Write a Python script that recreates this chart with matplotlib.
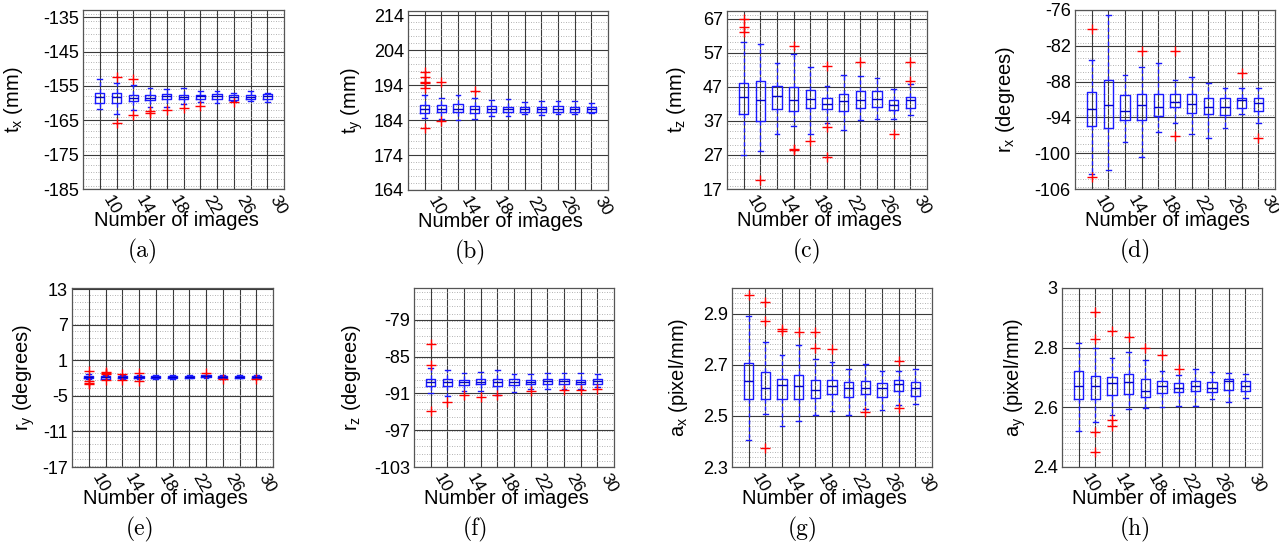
import matplotlib
matplotlib.use('Agg')
import numpy as np
import matplotlib.pyplot as plt
import matplotlib.transforms as mtransforms
from matplotlib.ticker import MultipleLocator, FixedLocator, FormatStrFormatter

plt.rcParams['font.family'] = ['Liberation Sans', 'DejaVu Sans']
plt.rcParams['axes.unicode_minus'] = False

n_images = [10, 12, 14, 16, 18, 20, 22, 24, 26, 28, 30]
tick_labels = ['10', '', '14', '', '18', '', '22', '', '26', '', '30']

# (a) t_x
tx_hi = [-153.0, -154.1, -154.8, -155.7, -156.0, -155.7, -156.5, -156.4, -157.0, -156.5, -157.0]
tx_q3 = [-157.2, -157.2, -157.7, -157.5, -157.3, -157.5, -157.5, -157.4, -157.5, -157.6, -157.4]
tx_med = [-158.2, -158.2, -158.4, -158.4, -158.0, -158.2, -158.0, -158.0, -158.2, -158.2, -158.0]
tx_q1 = [-159.9, -160.1, -159.3, -159.1, -158.9, -158.9, -158.8, -158.9, -159.0, -158.8, -158.8]
tx_lo = [-161.6, -163.2, -162.1, -161.1, -161.1, -160.3, -159.6, -160.1, -159.3, -159.3, -159.6]
tx_out = [[], [-152.5, -165.7], [-153.1, -163.5], [-162.3, -162.8], [-162.1], [-161.3],
          [-160.9], [], [-159.6], [], []]

# (b) t_y
ty_hi = [191.2, 190.4, 191.2, 190.2, 189.7, 190.0, 189.2, 189.5, 189.5, 189.5, 189.0]
ty_q3 = [188.3, 188.2, 188.5, 188.0, 188.0, 187.8, 187.8, 187.8, 187.9, 187.6, 187.8]
ty_med = [187.1, 187.3, 187.3, 187.1, 187.3, 187.1, 187.1, 187.3, 187.1, 187.1, 187.1]
ty_q1 = [186.1, 186.4, 186.3, 186.1, 186.4, 186.4, 186.4, 186.4, 186.3, 186.3, 186.3]
ty_lo = [184.7, 184.2, 184.0, 184.2, 185.2, 185.2, 185.6, 185.4, 185.6, 185.8, 185.9]
ty_out = [[197.7, 196.4, 194.8, 194.6, 193.1, 181.8], [195.0, 183.7], [], [192.2],
          [], [], [], [], [], [], []]

# (c) t_z
tz_hi = [60.1, 59.4, 54.0, 56.5, 52.8, 47.1, 50.3, 50.1, 49.6, 46.4, 47.9]
tz_q3 = [48.2, 48.7, 47.2, 46.9, 46.1, 43.7, 45.0, 45.7, 45.7, 43.2, 44.0]
tz_med = [44.0, 43.0, 44.3, 43.0, 43.3, 41.8, 42.7, 43.2, 43.4, 41.7, 43.2]
tz_q1 = [39.1, 36.9, 40.5, 40.0, 40.7, 40.5, 40.0, 40.8, 41.0, 40.3, 40.8]
tz_lo = [27.1, 28.0, 33.2, 35.6, 33.0, 36.3, 34.4, 37.3, 37.6, 37.4, 38.6]
tz_out = [[67.0, 64.4, 62.9], [19.6], [], [59.0, 28.6, 28.3], [31.2], [53.0, 35.3, 26.3],
          [], [54.3], [], [33.2], [54.1, 48.6]]

# (d) r_x
rx_hi = [-84.4, -76.9, -86.9, -85.5, -84.8, -87.8, -87.3, -88.3, -89.0, -89.1, -89.1]
rx_q3 = [-89.8, -87.8, -90.3, -90.1, -90.1, -90.0, -90.1, -90.8, -90.8, -90.8, -90.7]
rx_med = [-92.6, -92.0, -92.9, -92.0, -92.3, -91.5, -91.7, -92.2, -92.3, -91.1, -91.6]
rx_q1 = [-95.4, -95.7, -94.4, -94.4, -93.7, -92.3, -93.3, -93.5, -93.6, -92.5, -93.0]
rx_lo = [-103.5, -102.8, -98.1, -100.6, -96.5, -95.0, -96.8, -97.4, -95.8, -93.5, -95.0]
rx_out = [[-79.2, -104.0], [], [], [-82.8], [], [-82.9, -97.1], [], [], [], [-86.6], [-97.5]]

# (e) r_y
ry_hi = [-1.36, -1.47, -1.47, -1.42, -1.53, -1.53, -1.47, -1.42, -1.53, -1.47, -1.53]
ry_q3 = [-1.64, -1.64, -1.64, -1.58, -1.64, -1.64, -1.58, -1.53, -1.64, -1.58, -1.64]
ry_med = [-1.81, -1.87, -1.81, -1.81, -1.81, -1.87, -1.75, -1.70, -1.81, -1.75, -1.81]
ry_q1 = [-1.98, -2.09, -1.98, -1.98, -1.98, -2.03, -1.92, -1.87, -2.03, -1.92, -1.98]
ry_lo = [-2.20, -2.20, -2.15, -2.20, -2.09, -2.15, -2.03, -1.98, -2.09, -2.03, -2.03]
ry_out = [[-0.8, -2.48, -2.8, -2.93], [-0.95, -1.08, -1.36, -2.31], [-1.25, -2.31],
          [-1.19, -2.48], [], [], [], [-1.2], [-2.2], [], [-2.2]]

# (f) r_z
rz_hi = [-86.9, -87.1, -87.6, -87.5, -87.1, -87.8, -87.8, -87.6, -87.7, -87.6, -87.9]
rz_q3 = [-88.6, -88.6, -88.8, -88.7, -88.7, -88.7, -88.8, -88.6, -88.6, -88.8, -88.6]
rz_med = [-89.1, -89.1, -89.1, -89.1, -89.2, -89.2, -89.2, -88.9, -88.9, -89.1, -88.9]
rz_q1 = [-89.8, -89.8, -89.7, -89.5, -89.8, -89.7, -89.5, -89.4, -89.4, -89.5, -89.4]
rz_lo = [-90.9, -91.4, -90.6, -90.6, -91.2, -90.8, -90.3, -90.2, -90.2, -90.2, -89.9]
rz_out = [[-83.0, -86.3, -93.8], [-92.4], [-91.3], [-91.5], [-91.3], [], [-90.6], [],
          [-90.5], [-90.5], [-90.2]]

# (g) a_x
scx_hi = [2.892, 2.790, 2.737, 2.777, 2.721, 2.711, 2.684, 2.704, 2.677, 2.675, 2.684]
scx_q3 = [2.708, 2.671, 2.644, 2.660, 2.640, 2.640, 2.631, 2.638, 2.628, 2.642, 2.631]
scx_med = [2.635, 2.609, 2.622, 2.618, 2.602, 2.618, 2.607, 2.609, 2.607, 2.625, 2.607]
scx_q1 = [2.565, 2.565, 2.565, 2.565, 2.568, 2.587, 2.575, 2.587, 2.575, 2.598, 2.578]
scx_lo = [2.406, 2.509, 2.459, 2.479, 2.505, 2.519, 2.503, 2.525, 2.521, 2.542, 2.548]
scx_out = [[2.973], [2.945, 2.870, 2.376], [2.839, 2.832], [2.827], [2.827, 2.766],
           [2.761], [], [2.516], [], [2.713, 2.532], []]

# (h) a_y
scy_hi = [2.817, 2.800, 2.767, 2.786, 2.758, 2.722, 2.708, 2.730, 2.719, 2.716, 2.711]
scy_q3 = [2.721, 2.704, 2.702, 2.713, 2.694, 2.689, 2.682, 2.689, 2.685, 2.694, 2.687]
scy_med = [2.670, 2.670, 2.682, 2.685, 2.655, 2.670, 2.666, 2.672, 2.666, 2.689, 2.670]
scy_q1 = [2.627, 2.629, 2.643, 2.646, 2.634, 2.649, 2.651, 2.655, 2.651, 2.657, 2.654]
scy_lo = [2.520, 2.552, 2.573, 2.595, 2.597, 2.600, 2.603, 2.606, 2.629, 2.618, 2.631]
scy_out = [[], [2.919, 2.828, 2.518, 2.451], [2.856, 2.559, 2.539], [2.837], [2.800],
           [2.775], [2.730], [], [], [], []]

W, H = 1279, 545

# label, ylabel, data, ylim, first tick, major step, minor step,
# axes box in px (l, t, r, b), caption x, ylabel x (axes coords)
panels = [
    ('(a)', r'$\mathregular{t_x}$ (mm)', (tx_lo, tx_q1, tx_med, tx_q3, tx_hi, tx_out),
     (-185, -132.9), -185, 10, 2, (83, 10, 284, 189), 143, -0.29),
    ('(b)', r'$\mathregular{t_y}$ (mm)', (ty_lo, ty_q1, ty_med, ty_q3, ty_hi, ty_out),
     (164, 215.2), 164, 10, 2, (408, 11, 608, 190), 470, -0.215),
    ('(c)', r'$\mathregular{t_z}$ (mm)', (tz_lo, tz_q1, tz_med, tz_q3, tz_hi, tz_out),
     (17, 69.2), 17, 10, 2, (727, 11, 927, 189), 807, -0.195),
    ('(d)', r'$\mathregular{r_x}$ (degrees)', (rx_lo, rx_q1, rx_med, rx_q3, rx_hi, rx_out),
     (-106, -76), -106, 6, 1.2, (1075, 10, 1275, 189), 1135, -0.29),
    ('(e)', r'$\mathregular{r_y}$ (degrees)', (ry_lo, ry_q1, ry_med, ry_q3, ry_hi, ry_out),
     (-17, 13.2), -17, 6, 1.2, (72, 288, 273, 467), 140, -0.174),
    ('(f)', r'$\mathregular{r_z}$ (degrees)', (rz_lo, rz_q1, rz_med, rz_q3, rz_hi, rz_out),
     (-103, -73.8), -103, 6, 1.2, (414, 288, 614, 467), 475, -0.255),
    ('(g)', r'$\mathregular{a_x}$ (pixel/mm)', (scx_lo, scx_q1, scx_med, scx_q3, scx_hi, scx_out),
     (2.3, 3.0), 2.3, 0.2, 0.02, (732, 288, 932, 467), 803, -0.21),
    ('(h)', r'$\mathregular{a_y}$ (pixel/mm)', (scy_lo, scy_q1, scy_med, scy_q3, scy_hi, scy_out),
     (2.4, 3.0), 2.4, 0.2, 0.02, (1062, 288, 1262, 467), 1135, -0.17),
]

fig = plt.figure(figsize=(W / 100, H / 100), dpi=100)
shift = mtransforms.ScaledTranslation(-0.06, 0, fig.dpi_scale_trans)

for lab, ylab, data, ylim, y0, major, minor, box, capx, ylx in panels:
    l, t, r, b = box
    ax = fig.add_axes([l / W, 1 - b / H, (r - l) / W, (b - t) / H])
    lo, q1, med, q3, hi, out = data
    stats = []
    for i in range(len(n_images)):
        stats.append(dict(whislo=lo[i], q1=q1[i], med=med[i], q3=q3[i], whishi=hi[i],
                          fliers=out[i]))
    ax.bxp(stats, positions=n_images, widths=1.1, capwidths=0.55,
           boxprops=dict(color='#1a1aff', lw=1.0),
           medianprops=dict(color='#0000cc', lw=1.0),
           whiskerprops=dict(color='#1a1aff', lw=1.0, ls=(0, (3, 2))),
           capprops=dict(color='#1a1aff', lw=1.0),
           flierprops=dict(marker='+', markeredgecolor='red', markersize=7, mew=1.0,
                           ls='none'))

    ax.set_xlim(8, 32)
    ax.set_ylim(*ylim)
    ax.xaxis.set_major_locator(FixedLocator(n_images))
    ax.set_xticklabels(tick_labels, rotation=-60, ha='left', va='top', fontsize=12.5)
    for tl in ax.get_xticklabels():
        tl.set_transform(tl.get_transform() + shift)
    ax.set_yticks(np.arange(y0, ylim[1] + 1e-9, major))
    ax.yaxis.set_minor_locator(MultipleLocator(minor))
    ax.yaxis.set_major_formatter(FormatStrFormatter('%g'))
    ax.tick_params(axis='y', labelsize=13)
    ax.tick_params(which='both', length=0, pad=3)

    ax.grid(True, which='major', color='#3a3a3a', lw=0.8, ls='-')
    ax.grid(True, which='minor', axis='y', color='#9a9a9a', lw=0.6, ls=(0, (1, 2)))
    ax.set_axisbelow(True)
    for s in ax.spines.values():
        s.set_color('#555555')
        s.set_linewidth(0.9)

    ax.set_xlabel('Number of images', fontsize=14.5, va='top')
    ax.xaxis.set_label_coords(0.463, -0.125)
    ax.set_ylabel(ylab, fontsize=14.5)
    ax.yaxis.set_label_coords(ylx, 0.5)

    fig.text(capx / W, 1 - (b + 62) / H, lab, family='cmr10', fontsize=17,
             ha='center', va='center')

fig.savefig('out.png', dpi=100)
